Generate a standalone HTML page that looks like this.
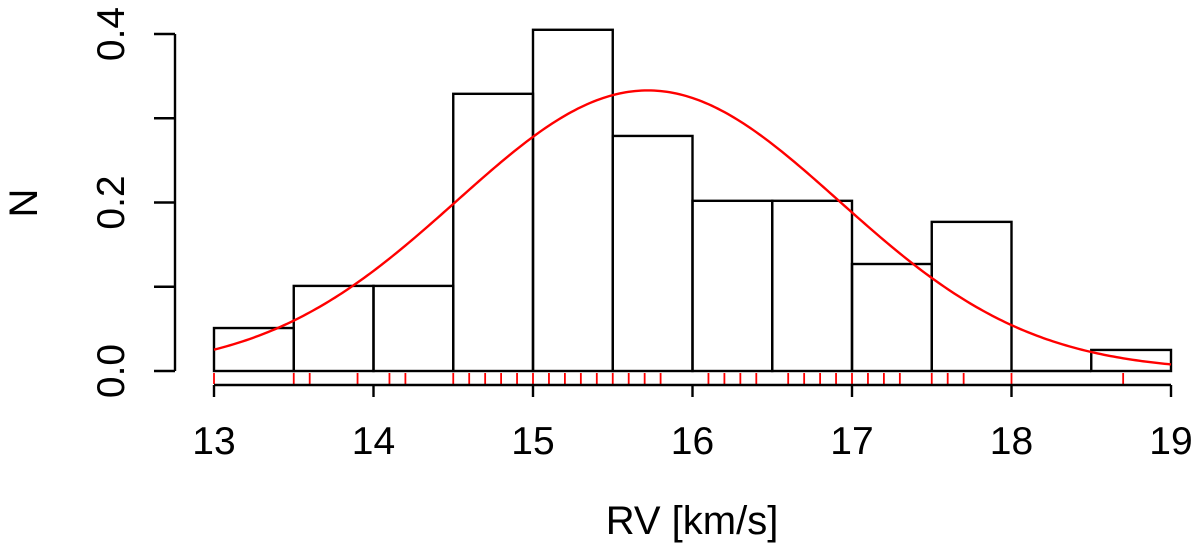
<!DOCTYPE html>
<html><head><meta charset="utf-8"><style>
html,body{margin:0;padding:0;background:#fff;}
svg{display:block;font-family:"Liberation Sans",Arial,sans-serif;}
</style></head><body>
<svg id="chart" width="1200" height="544" viewBox="0 0 1200 544">
<g id="bars"></g>
<g id="curve"></g>
<g id="rug"></g>
<g id="xaxis"></g>
<g id="yaxis"></g>
<text x="692" y="534" font-size="40" text-anchor="middle">RV [km/s]</text>
<text x="0" y="0" font-size="40" text-anchor="middle" transform="translate(37,203) rotate(-90)">N</text>
</svg>
<script>
const binEdges = [13,13.5,14,14.5,15,15.5,16,16.5,17,17.5,18,18.5,19];
const density = [0.051,0.101,0.101,0.329,0.405,0.279,0.202,0.202,0.127,0.177,0,0.025];
const rugValues = [13.0,13.5,13.6,13.9,14.1,14.2,14.5,14.6,14.7,14.8,14.9,15.0,15.1,15.2,15.3,15.4,15.5,15.6,15.7,15.8,16.1,16.2,16.3,16.4,16.6,16.7,16.8,16.9,17.0,17.1,17.2,17.3,17.5,17.6,17.7,18.0,18.7];
const fitMean = [15.72];
const fitSd = [1.198];
const xTicks = [13,14,15,16,17,18,19];
const yTicks = [0,0.1,0.2,0.3,0.4];
const yTickLabels = ["0.0","","0.2","","0.4"];

const NS="http://www.w3.org/2000/svg";
const X = v => 214 + (v-13)*(1171-214)/6;
const Y = v => 371 - v*(371-34)/0.4;
function mk(tag, attrs, parent){const e=document.createElementNS(NS,tag);for(const k in attrs)e.setAttribute(k,attrs[k]);parent.appendChild(e);return e;}
const bars=document.getElementById('bars');
density.forEach((d,i)=>{
  if(d<=0){const l=mk('line',{x1:X(binEdges[i]),x2:X(binEdges[i+1]),y1:Y(0),y2:Y(0),stroke:'#000','stroke-width':2.4},bars);
    
    return;}
  const r=mk('rect',{x:X(binEdges[i]),y:Y(d),width:X(binEdges[i+1])-X(binEdges[i]),height:Y(0)-Y(d),fill:'none',stroke:'#000','stroke-width':2.4},bars);
  
  
});
const m=fitMean[0], s=fitSd[0];
let pts=[];
for(let k=0;k<=300;k++){const x=13+6*k/300;const y=Math.exp(-((x-m)**2)/(2*s*s))/(s*Math.sqrt(2*Math.PI));pts.push(X(x).toFixed(2)+','+Y(y).toFixed(2));}
const pl=mk('polyline',{points:pts.join(' '),fill:'none',stroke:'#f00','stroke-width':2.4},document.getElementById('curve'));


const rug=document.getElementById('rug');
rugValues.forEach(v=>{const l=mk('line',{x1:X(v),x2:X(v),y1:373,y2:384,stroke:'#f00','stroke-width':1.8},rug);
  
  });
const xa=document.getElementById('xaxis');
mk('line',{x1:X(13),x2:X(19),y1:385,y2:385,stroke:'#000','stroke-width':2.4},xa);
xTicks.forEach(t=>{mk('line',{x1:X(t),x2:X(t),y1:385,y2:397,stroke:'#000','stroke-width':2.4},xa);
  const tx=mk('text',{x:X(t),y:454,'font-size':39,'text-anchor':'middle'},xa);tx.textContent=t;
  
  });
const ya=document.getElementById('yaxis');
mk('line',{x1:175,x2:175,y1:Y(0),y2:Y(0.4),stroke:'#000','stroke-width':2.4},ya);
yTicks.forEach((t,i)=>{mk('line',{x1:154,x2:175,y1:Y(t),y2:Y(t),stroke:'#000','stroke-width':2.4},ya);
  if(yTickLabels[i]){const tx=mk('text',{x:0,y:0,'font-size':39,'text-anchor':'middle',transform:'translate(124,'+Y(t)+') rotate(-90)'},ya);tx.textContent=yTickLabels[i];
  
  }});
</script>
</body></html>
